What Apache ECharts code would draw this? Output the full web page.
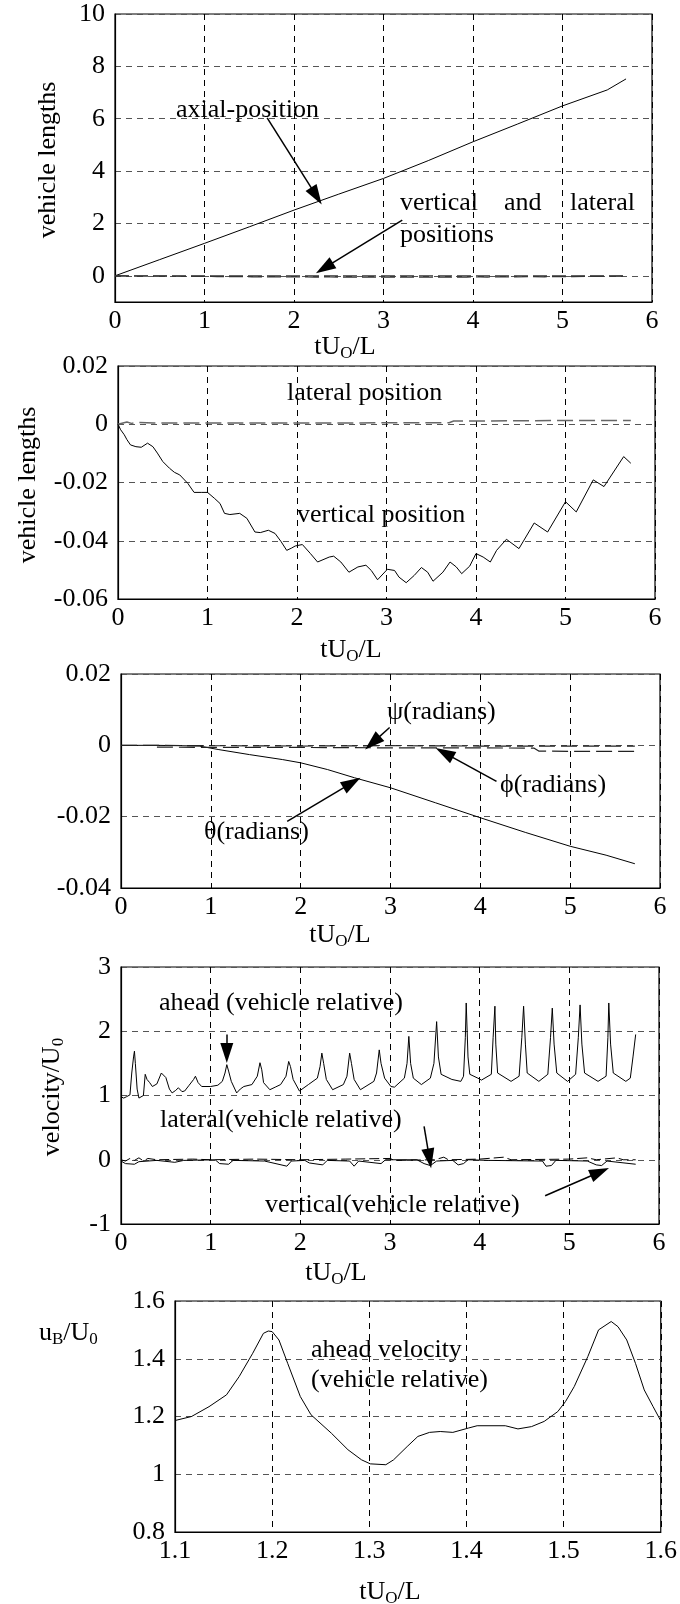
<!DOCTYPE html>
<html>
<head>
<meta charset="utf-8">
<script src="https://cdn.jsdelivr.net/npm/echarts@6/dist/echarts.min.js"></script>
<style>
html, body { margin: 0; padding: 0; background: #fff; }
#chart { width: 680px; height: 1604px; }
</style>
</head>
<body>
<div id="chart"></div>
<script>
// values, [tU0/L, value]
const axialPos = [[0, 0], [0.5, 0.62], [1, 1.24], [1.5, 1.87], [2, 2.51], [2.5, 3.12], [3, 3.72],
  [3.5, 4.4], [4, 5.12], [4.5, 5.8], [5, 6.49], [5.5, 7.1], [5.71, 7.52]];

const vertPos = [[0, 0], [0.03, -0.0019], [0.07, -0.0036], [0.10, -0.0053], [0.14, -0.0071], [0.20, -0.0077],
  [0.26, -0.0079], [0.33, -0.0065], [0.39, -0.0077], [0.44, -0.0099], [0.50, -0.0128], [0.575, -0.0151],
  [0.63, -0.0165], [0.69, -0.0174], [0.78, -0.0203], [0.85, -0.0234], [0.93, -0.0234], [1.0, -0.0234],
  [1.08, -0.0255], [1.14, -0.0272], [1.19, -0.0306], [1.25, -0.031], [1.36, -0.0306], [1.44, -0.0323],
  [1.53, -0.037], [1.59, -0.0372], [1.68, -0.0364], [1.755, -0.0375], [1.82, -0.0402], [1.885, -0.0433],
  [1.94, -0.0425], [1.98, -0.0418], [2.06, -0.0413], [2.15, -0.0444], [2.23, -0.0473], [2.36, -0.0456],
  [2.41, -0.0453], [2.49, -0.0473], [2.58, -0.0508], [2.68, -0.049], [2.77, -0.0484], [2.83, -0.0502],
  [2.90, -0.0534], [3.01, -0.0498], [3.09, -0.0502], [3.14, -0.0525], [3.22, -0.0544], [3.31, -0.0519],
  [3.39, -0.0492], [3.46, -0.0508], [3.52, -0.0539], [3.63, -0.0508], [3.71, -0.0473], [3.78, -0.049],
  [3.84, -0.0513], [3.93, -0.0487], [4.0, -0.0444], [4.08, -0.0456], [4.16, -0.0473], [4.23, -0.0433],
  [4.34, -0.0395], [4.48, -0.0427], [4.65, -0.0339], [4.80, -0.037], [5.0, -0.0266], [5.12, -0.0301],
  [5.31, -0.0191], [5.43, -0.0214], [5.65, -0.0111], [5.73, -0.0134]];

const latPos = [[0, 0], [0.1, 0.0008], [0.15, 0.0003], [0.2, 0.0006], [0.4, 0.0004], [1, 0.0004], [2, 0.0004],
  [3, 0.0005], [3.7, 0.0005], [3.75, 0.0011], [4.5, 0.0012], [5, 0.0013], [5.73, 0.0013]];

const theta = [[0, 0], [0.4, 0], [0.87, -0.0002], [1.09, -0.0012], [1.43, -0.0026], [1.8, -0.004], [2.0, -0.0049],
  [2.3, -0.0068], [2.6, -0.0091], [3.0, -0.0119], [3.5, -0.0161], [4.0, -0.0203], [4.5, -0.0244],
  [5.0, -0.0283], [5.4, -0.0308], [5.72, -0.0332]];
const psi = [[0, 0], [0.4, 0], [1, -0.0001], [2, -0.0002], [3, -0.0001], [4, -0.0002], [5, -0.0002], [5.72, -0.0002]];
const phi = [[0.4, -0.0005], [1, -0.0006], [2, -0.0006], [3, -0.0007], [4, -0.0007], [4.6, -0.0008],
  [4.65, -0.0016], [5, -0.0017], [5.72, -0.0017]];

const aheadVel = [[0.0, 0.98], [0.03, 0.96], [0.06, 0.98], [0.10, 1.01], [0.12, 1.35], [0.14, 1.6], [0.15, 1.69],
  [0.16, 1.5], [0.18, 1.1], [0.2, 0.96], [0.22, 0.94], [0.25, 1.0], [0.27, 1.33], [0.29, 1.25], [0.32, 1.2],
  [0.35, 1.14], [0.40, 1.18], [0.45, 1.35], [0.47, 1.37], [0.50, 1.28], [0.54, 1.1], [0.57, 1.04], [0.61, 1.08],
  [0.64, 1.12], [0.68, 1.06], [0.71, 1.07], [0.76, 1.16], [0.81, 1.25], [0.83, 1.30], [0.86, 1.2], [0.9, 1.14],
  [1.0, 1.14], [1.08, 1.16], [1.13, 1.22], [1.16, 1.35], [1.18, 1.48], [1.20, 1.38], [1.23, 1.22], [1.29, 1.04],
  [1.33, 1.1], [1.37, 1.14], [1.46, 1.17], [1.52, 1.3], [1.55, 1.51], [1.57, 1.4], [1.59, 1.2], [1.66, 1.09],
  [1.72, 1.13], [1.78, 1.17], [1.84, 1.3], [1.87, 1.53], [1.89, 1.45], [1.92, 1.25], [1.99, 1.07], [2.09, 1.17],
  [2.19, 1.27], [2.22, 1.45], [2.24, 1.66], [2.26, 1.5], [2.29, 1.25], [2.36, 1.09], [2.48, 1.17], [2.52, 1.3],
  [2.55, 1.66], [2.57, 1.5], [2.60, 1.25], [2.67, 1.09], [2.82, 1.22], [2.85, 1.35], [2.88, 1.71], [2.90, 1.5],
  [2.94, 1.27], [3.01, 1.14], [3.05, 1.13], [3.16, 1.27], [3.19, 1.5], [3.21, 1.92], [3.23, 1.5], [3.26, 1.27],
  [3.35, 1.17], [3.45, 1.27], [3.49, 1.5], [3.52, 2.15], [3.54, 1.6], [3.57, 1.33], [3.69, 1.25], [3.79, 1.22],
  [3.82, 1.30], [3.84, 1.9], [3.85, 2.44], [3.87, 1.6], [3.89, 1.33], [3.98, 1.27], [4.02, 1.24], [4.13, 1.33],
  [4.15, 1.9], [4.17, 2.39], [4.18, 1.8], [4.20, 1.35], [4.35, 1.22], [4.44, 1.30], [4.47, 1.9], [4.49, 2.39],
  [4.51, 1.8], [4.53, 1.35], [4.66, 1.22], [4.76, 1.33], [4.79, 1.9], [4.81, 2.36], [4.83, 1.8], [4.86, 1.35],
  [4.98, 1.22], [5.07, 1.33], [5.10, 1.9], [5.12, 2.41], [5.14, 1.8], [5.17, 1.35], [5.32, 1.22], [5.41, 1.30],
  [5.43, 1.9], [5.44, 2.44], [5.46, 1.8], [5.49, 1.35], [5.63, 1.22], [5.68, 1.27], [5.71, 1.6], [5.74, 1.95]];

const latVel = [[0, 0], [0.05, -0.02], [0.1, 0.02], [0.15, -0.01], [0.2, 0.03], [0.25, -0.02], [0.3, 0.02],
  [0.4, 0], [0.8, 0.01], [1.0, 0], [1.5, 0.01], [2.0, 0], [2.5, 0.01], [3.0, 0.02], [3.05, -0.01], [3.5, 0],
  [3.6, 0.04], [3.65, 0], [4.0, 0.01], [4.27, 0.04], [4.35, 0], [5.0, 0.01], [5.2, 0.03], [5.3, 0],
  [5.53, 0.03], [5.6, 0], [5.74, 0]];
const vertVel = [[0, -0.02], [0.05, -0.06], [0.15, -0.07], [0.2, -0.03], [0.4, -0.01], [0.6, -0.04], [0.7, -0.01],
  [1.05, 0], [1.1, -0.06], [1.2, -0.07], [1.25, -0.01], [1.6, -0.02], [1.85, -0.1], [1.9, -0.02], [2.05, -0.01],
  [2.1, -0.05], [2.25, -0.08], [2.3, -0.01], [2.55, -0.02], [2.6, -0.1], [2.65, -0.02], [2.9, -0.06], [2.95, 0],
  [3.3, 0], [3.38, -0.06], [3.45, -0.09], [3.52, -0.02], [3.7, -0.01], [3.76, -0.08], [3.82, -0.06], [3.87, 0],
  [4.1, -0.01], [4.7, -0.02], [4.74, -0.1], [4.8, -0.09], [4.85, -0.01], [5.2, -0.02], [5.3, -0.08],
  [5.36, -0.09], [5.42, -0.02], [5.74, -0.07]];

const aheadZoom = [[1.1, 1.186], [1.117, 1.2], [1.135, 1.234], [1.153, 1.275], [1.166, 1.338], [1.18, 1.419],
  [1.191, 1.488], [1.196, 1.496], [1.2, 1.494], [1.207, 1.465], [1.216, 1.384], [1.229, 1.269], [1.24, 1.206],
  [1.261, 1.142], [1.278, 1.085], [1.292, 1.05], [1.301, 1.036], [1.317, 1.033], [1.325, 1.05], [1.339, 1.096],
  [1.35, 1.131], [1.362, 1.145], [1.373, 1.148], [1.386, 1.145], [1.402, 1.16], [1.411, 1.168], [1.44, 1.168],
  [1.453, 1.157], [1.467, 1.165], [1.48, 1.183], [1.494, 1.217], [1.502, 1.252], [1.511, 1.304], [1.525, 1.408],
  [1.536, 1.5], [1.549, 1.529], [1.556, 1.511], [1.565, 1.465], [1.574, 1.384], [1.583, 1.292], [1.592, 1.235],
  [1.6, 1.185]];

// annotation arrows, [from, to] in data units
const arrows1 = [[[1.70, 6.03], [2.25, 3.05]], [[3.21, 2.13], [2.34, 0.3]]];
const arrows3 = [[[2.99, 0.005], [2.80, 0.0007]], [[4.18, -0.0101], [3.60, -0.0021]], [[1.85, -0.0213], [2.57, -0.0105]]];
const arrows4 = [[[1.18, 1.95], [1.18, 1.66]], [[3.38, 0.52], [3.44, 0.02]], [[4.73, -0.56], [5.34, -0.19]]];

const FONT = '"Liberation Serif", "Times New Roman", serif';
const FS = 26;

function xAx(gi, min, max, interval) {
  return {
    type: 'value', gridIndex: gi, min: min, max: max, interval: interval,
    axisLine: { show: true, onZero: false, lineStyle: { color: '#000', width: 1.2 } },
    axisTick: { show: false },
    axisLabel: { color: '#000', fontFamily: FONT, fontSize: FS, margin: 6 },
    splitLine: { show: true, lineStyle: { color: '#000', type: [6, 5], width: 1 } }
  };
}
function yAx(gi, min, max, interval) {
  const a = {
    type: 'value', gridIndex: gi, min: min, max: max,
    axisLine: { show: true, onZero: false, lineStyle: { color: '#000', width: 1.2 } },
    axisTick: { show: false },
    axisLabel: { color: '#000', fontFamily: FONT, fontSize: FS, margin: 10 },
    splitLine: { show: true, lineStyle: { color: '#555', type: [6, 5], width: 1 } }
  };
  if (interval) a.interval = interval;
  return a;
}
function arrowLines(list) {
  return {
    silent: true, animation: false,
    symbol: ['none', 'triangle'], symbolSize: [13, 20],
    label: { show: false },
    lineStyle: { color: '#000', width: 1.5, type: 'solid' },
    data: list.map(a => [{ coord: a[0] }, { coord: a[1] }])
  };
}
function line(gi, data, opts) {
  return Object.assign({
    type: 'line', xAxisIndex: gi, yAxisIndex: gi, data: data,
    showSymbol: false, symbol: 'none', animation: false, silent: true,
    lineStyle: { color: '#000', width: 1 }, itemStyle: { color: '#000' }
  }, opts || {});
}
function txt(x, y, s, extra) {
  return Object.assign({
    type: 'text', x: x, y: y, silent: true,
    style: { text: s, fontFamily: FONT, fontSize: FS, fill: '#000', align: 'left', verticalAlign: 'middle',
      rich: {
        n: { fontFamily: FONT, fontSize: FS, lineHeight: 30, fill: '#000' },
        s: { fontFamily: FONT, fontSize: 17, lineHeight: 17, verticalAlign: 'bottom', fill: '#000' }
      } }
  }, extra || {});
}
function centered(x, y, s, rot) {
  const t = txt(x, y, s, { rotation: rot || 0 });
  t.style.align = 'center';
  return t;
}

const tName = '{n|tU}{s|O}{n|/L}';
const dashLine = { color: '#333', width: 1.2, type: [14, 5] };

const y0 = yAx(0, -1, 10);
y0.splitNumber = 5;
y0.axisLabel.formatter = v => (v < 0 ? '' : String(v));

const option = {
  backgroundColor: '#fff',
  grid: [
    { left: 115, top: 14, width: 537, height: 288 },
    { left: 118, top: 366, width: 537, height: 233 },
    { left: 121, top: 674, width: 539, height: 214 },
    { left: 121, top: 967, width: 538, height: 257 },
    { left: 175, top: 1301, width: 487, height: 231 }
  ].map(g => Object.assign({ show: true, borderColor: '#000', borderWidth: 1.2, backgroundColor: '#fff' }, g)),
  xAxis: [xAx(0, 0, 6, 1), xAx(1, 0, 6, 1), xAx(2, 0, 6, 1), xAx(3, 0, 6, 1), xAx(4, 1.1, 1.6, 0.1)],
  yAxis: [
    y0,
    yAx(1, -0.06, 0.02, 0.02),
    yAx(2, -0.04, 0.02, 0.02),
    yAx(3, -1, 3, 1),
    yAx(4, 0.8, 1.6, 0.2)
  ],
  series: [
    line(0, axialPos, { markLine: arrowLines(arrows1) }),
    line(0, vertPos, { lineStyle: dashLine }),
    line(0, latPos, { lineStyle: dashLine }),
    line(1, latPos, { lineStyle: { color: '#666', width: 1.5, type: [16, 6] } }),
    line(1, vertPos),
    line(2, theta, { markLine: arrowLines(arrows3) }),
    line(2, psi, { lineStyle: { color: '#222', width: 1.2, type: [16, 6] } }),
    line(2, phi, { lineStyle: { color: '#222', width: 1.2, type: [16, 6] } }),
    line(3, aheadVel, { markLine: arrowLines(arrows4) }),
    line(3, latVel, { lineStyle: { color: '#000', width: 1, type: [10, 4] } }),
    line(3, vertVel),
    line(4, aheadZoom)
  ],
  graphic: { elements: [
    // axis names
    centered(345, 347, tName), centered(351, 650, tName), centered(340, 935, tName),
    centered(336, 1273, tName), centered(390, 1592, tName),
    centered(48, 160, 'vehicle lengths', Math.PI / 2),
    centered(28, 485, 'vehicle lengths', Math.PI / 2),
    centered(52, 1097, '{n|velocity/U}{s|0}', Math.PI / 2),
    txt(39, 1333, '{n|u}{s|B}{n|/U}{s|0}'),
    // annotations
    txt(176, 110, 'axial-position'),
    txt(400, 203, 'vertical'), txt(504, 203, 'and'), txt(570, 203, 'lateral'),
    txt(400, 235, 'positions'),
    txt(287, 393, 'lateral position'),
    txt(297, 515, 'vertical position'),
    txt(387, 712, 'ψ(radians)'),
    txt(500, 785, 'ϕ(radians)'),
    txt(204, 832, 'θ(radians)'),
    txt(159, 1003, 'ahead (vehicle relative)'),
    txt(160, 1120, 'lateral(vehicle relative)'),
    txt(265, 1205, 'vertical(vehicle relative)'),
    txt(311, 1350, 'ahead velocity'),
    txt(311, 1380, '(vehicle relative)')
  ] }
};

const chart = echarts.init(document.getElementById('chart'));
chart.setOption(option);
window.addEventListener('resize', function () { chart.resize(); });
</script>
</body>
</html>
